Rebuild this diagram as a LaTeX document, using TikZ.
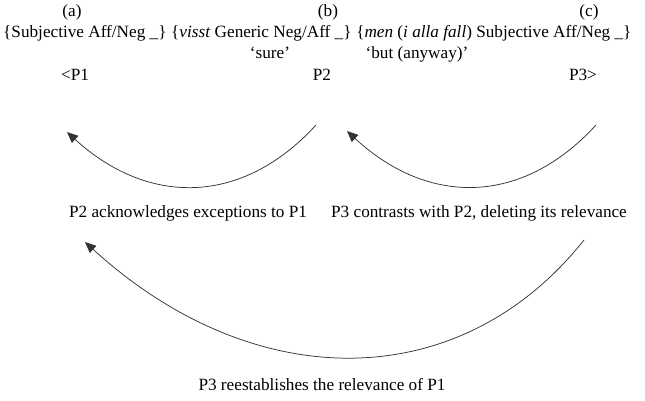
\documentclass[tikz,border=0pt]{standalone}
\usepackage{fontspec}
\setmainfont{Liberation Serif}
\usetikzlibrary{arrows.meta}
\begin{document}
\begin{tikzpicture}[x=1pt,y=-1pt,
  txt/.style={inner sep=0pt,font=\fontsize{17.2}{20}\selectfont},
  lbl/.style={txt,anchor=base},
  lblw/.style={txt,anchor=base west},
  arc/.style={draw=black!80,line width=0.75pt,-{Triangle[length=11pt,width=9.5pt]}}]
\path[use as bounding box] (0,0) rectangle (645,401);
% header labels
\node[lbl] (a) at (72,17) {(a)};
\node[lbl] (b) at (328,17) {(b)};
\node[lbl] (c) at (589,17) {(c)};
\node[lblw] (ta) at (3,38) {\{Subjective Aff/Neg \_\}};
\node[lblw] (tb) at ([xshift=4.3pt]ta.base east) {\{\textit{visst} Generic Neg/Aff \_\}};
\node[lblw] (tc) at ([xshift=4.3pt]tb.base east) {\{\textit{men} (\textit{i alla fall}) Subjective Aff/Neg \_\}};
\node[lbl] (gb) at (270,59) {`sure'};
\node[lbl] (gc) at (417,59) {`but (anyway)'};
\node[lbl] (p1) at (75,81) {<P1};
\node[lbl] (p2) at (322,81) {P2};
\node[lbl] (p3) at (583,81) {P3>};
% connector ends
\coordinate (s1) at (316,125);
\coordinate (e1) at (67,132);
\coordinate (s2) at (596,125);
\coordinate (e2) at (347,131);
\coordinate (s3) at (584,240);
\coordinate (e3) at (85,242);
\draw[arc] (s1) .. controls (242,206) and (148,206) .. (e1);
\draw[arc] (s2) .. controls (522,206) and (428,206) .. (e2);
\draw[arc] (s3) .. controls (460,396) and (254,396) .. (e3);
% captions
\node[lbl] (c1) at (188,217) {P2 acknowledges exceptions to P1};
\node[lbl] (c2) at (479,217) {P3 contrasts with P2, deleting its relevance};
\node[lbl] (c3) at (322,390) {P3 reestablishes the relevance of P1};
\end{tikzpicture}
\end{document}
